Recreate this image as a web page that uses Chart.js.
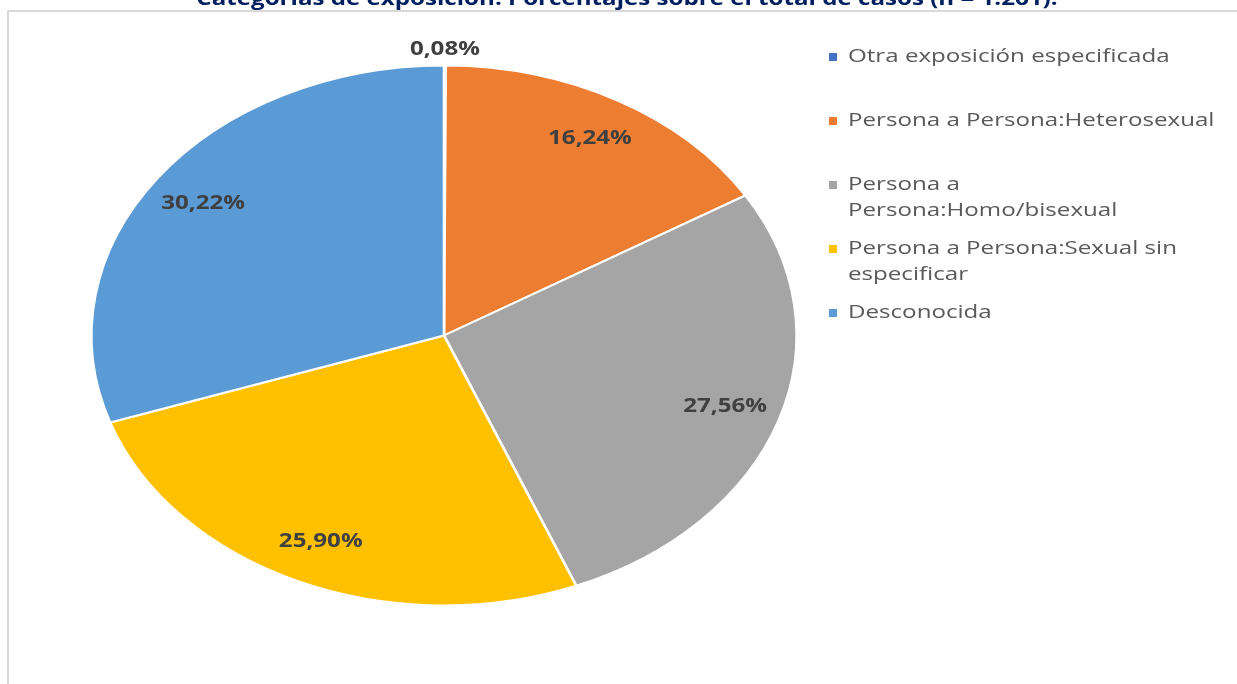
<!DOCTYPE html>
<html>
<head>
<meta charset="utf-8">
<script src="https://cdn.jsdelivr.net/npm/chart.js@4.4.0/dist/chart.umd.min.js"></script>
<style>
  html, body { margin: 0; padding: 0; background: #fff; overflow: hidden; }
  #wrap { width: 1237px; height: 684px; }
</style>
</head>
<body>
<div id="wrap"><canvas id="exposureChart" width="1237" height="684"></canvas></div>
<script>
const categories = [
  'Otra exposición especificada',
  'Persona a Persona:Heterosexual',
  ['Persona a', 'Persona:Homo/bisexual'],
  ['Persona a Persona:Sexual sin', 'especificar'],
  'Desconocida'
];
const percentages = [0.08, 16.24, 27.56, 25.90, 30.22];
const sliceColors = ['#4472C4', '#ED7D31', '#A5A5A5', '#FFC000', '#5B9BD5'];
const titleText = 'Categorías de exposición. Porcentajes sobre el total de casos (n = 1.261).';

// the original pie is an ellipse, wider than tall; text is also a bit wide
const PIE_STRETCH = 1.306;
const TEXT_STRETCH = 1.27;

function fmt(v) {
  return v.toFixed(2).replace('.', ',') + '%';
}

function drawText(ctx, text, x, y, font, color, align, baseline) {
  ctx.save();
  ctx.translate(x, y);
  ctx.scale(TEXT_STRETCH, 1);
  ctx.font = font;
  ctx.fillStyle = color;
  ctx.textAlign = align;
  ctx.textBaseline = baseline;
  ctx.fillText(text, 0, 0);
  ctx.restore();
}

const frameAndTitle = {
  id: 'frameAndTitle',
  beforeDraw(chart) {
    const ctx = chart.ctx;
    ctx.save();
    ctx.fillStyle = '#fff';
    ctx.fillRect(0, 0, chart.width, chart.height);
    ctx.strokeStyle = '#d9d9d9';
    ctx.lineWidth = 2;
    ctx.beginPath();
    ctx.moveTo(8, chart.height);
    ctx.lineTo(8, 11);
    ctx.lineTo(chart.width, 11);
    ctx.stroke();
    ctx.restore();
    drawText(ctx, titleText, 627, 5, 'bold 19px "Open Sans"', '#002060', 'center', 'alphabetic');
  }
};

const ellipsePie = {
  id: 'ellipsePie',
  beforeDatasetsDraw(chart) {
    const ctx = chart.ctx;
    const cx = chart.getDatasetMeta(0).data[0].x;
    ctx.save();
    ctx.translate(cx, 0);
    ctx.scale(PIE_STRETCH, 1);
    ctx.translate(-cx, 0);
  },
  afterDatasetsDraw(chart) {
    const ctx = chart.ctx;
    ctx.restore();

    // value labels
    chart.getDatasetMeta(0).data.forEach((arc, i) => {
      const p = arc.getProps(['x', 'y', 'startAngle', 'endAngle', 'outerRadius'], true);
      const mid = (p.startAngle + p.endAngle) / 2;
      const f = percentages[i] < 1 ? 1.06 : 0.84;
      const lx = p.x + Math.cos(mid) * p.outerRadius * f * PIE_STRETCH;
      const ly = p.y + Math.sin(mid) * p.outerRadius * f;
      drawText(ctx, fmt(percentages[i]), lx, ly, 'bold 19px "Open Sans"', '#404040', 'center', 'middle');
    });

    // legend on the right
    categories.forEach((cat, i) => {
      const lines = Array.isArray(cat) ? cat : [cat];
      const y0 = 57 + i * 64;
      ctx.fillStyle = sliceColors[i];
      ctx.fillRect(829, y0 - 4, 8, 8);
      lines.forEach((line, k) => {
        drawText(ctx, line, 848, y0 + k * 26, '19px "Open Sans"', '#595959', 'left', 'middle');
      });
    });
  }
};

const ctx = document.getElementById('exposureChart').getContext('2d');
const exposureChart = new Chart(ctx, {
  type: 'pie',
  data: {
    labels: categories,
    datasets: [{
      data: percentages,
      backgroundColor: sliceColors,
      borderColor: '#ffffff',
      borderWidth: 2,
      clip: false
    }]
  },
  options: {
    responsive: false,
    devicePixelRatio: 1,
    animation: false,
    layout: {
      padding: { top: 64, bottom: 77, left: 173, right: 522 }
    },
    plugins: {
      legend: { display: false },
      title: { display: false },
      tooltip: { enabled: false }
    }
  },
  plugins: [frameAndTitle, ellipsePie]
});
</script>
</body>
</html>
